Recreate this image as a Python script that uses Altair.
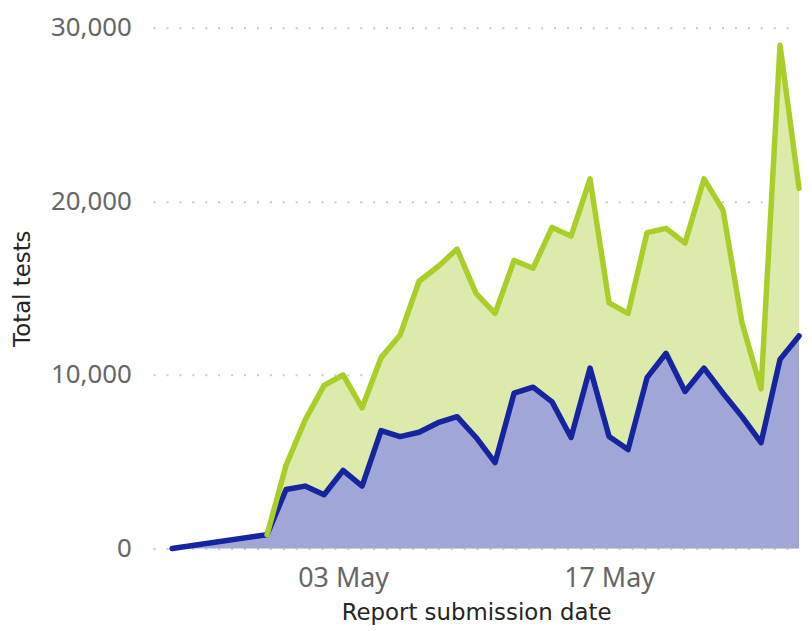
import altair as alt
import pandas as pd

dates = pd.date_range("2020-04-29", "2020-05-27", freq="D").strftime("%Y-%m-%d").tolist()

# Blue series (lower): includes starting point 24 Apr
blue_dates = ["2020-04-24"] + dates
blue_vals = [0, 800, 3400, 3600, 3100, 4500, 3600, 6800, 6450, 6700, 7250, 7600, 6400, 4950,
             8950, 9300, 8450, 6400, 10400, 6450, 5700, 9850, 11250, 9050, 10400, 8950,
             7600, 6100, 10900, 12250]

# Green series (upper / total)
green_dates = dates
green_vals = [800, 4800, 7400, 9400, 10000, 8100, 11000, 12300, 15400, 16250, 17250, 14700,
              13550, 16600, 16150, 18500, 18000, 21300, 14150, 13550, 18200, 18450, 17600,
              21300, 19500, 13000, 9200, 29000, 20750]

blue_df = pd.DataFrame({"date": blue_dates, "value": blue_vals})
green_df = pd.DataFrame({"date": green_dates, "value": green_vals})

GREEN_LINE = "#AACE28"
GREEN_FILL = "#DCEAAB"
BLUE_LINE = "#1525A0"
BLUE_FILL = "#A0A7D7"

x_enc = alt.X(
    "date:T",
    scale=alt.Scale(type="utc",
                    domain=[alt.DateTime(year=2020, month=4, date=23, utc=True),
                            alt.DateTime(year=2020, month=5, date=27, utc=True)]),
    axis=alt.Axis(
        title="Report submission date",
        values=[alt.DateTime(year=2020, month=5, date=3, utc=True),
                alt.DateTime(year=2020, month=5, date=17, utc=True)],
        labelExpr="utcFormat(datum.value, '%d %b')",
        grid=False, domain=False, ticks=False,
        labelFont="Noto Sans", labelFontSize=27, labelColor="#666666",
        labelPadding=17,
        titleFont="DejaVu Sans", titleFontSize=23, titleFontWeight="normal",
        titleColor="#252423", titlePadding=10,
    ),
)
y_enc = alt.Y(
    "value:Q",
    scale=alt.Scale(domain=[0, 30000], nice=False, zero=True),
    axis=alt.Axis(
        title="Total tests",
        values=[0, 10000, 20000, 30000],
        format=",d",
        grid=True, gridColor="#C8C8C8", gridDash=[2, 11], gridWidth=2,
        domain=False, ticks=False,
        labelFont="Noto Sans", labelFontSize=26, labelColor="#666666",
        labelPadding=22,
        titleFont="DejaVu Sans", titleFontSize=23, titleFontWeight="normal",
        titleColor="#252423", titlePadding=16,
    ),
)

green_area = alt.Chart(green_df).mark_area(color=GREEN_FILL, opacity=1).encode(x=x_enc, y=y_enc)
blue_area = alt.Chart(blue_df).mark_area(color=BLUE_FILL, opacity=1).encode(x=x_enc, y=y_enc)
blue_line = alt.Chart(blue_df).mark_line(color=BLUE_LINE, strokeWidth=5.5, strokeJoin="round",
                                         strokeCap="round").encode(x=x_enc, y=y_enc)
green_line = alt.Chart(green_df).mark_line(color=GREEN_LINE, strokeWidth=5.5, strokeJoin="round",
                                           strokeCap="round").encode(x=x_enc, y=y_enc)

chart = alt.layer(green_area, blue_area, blue_line, green_line).properties(
    width=650, height=524,
    autosize=alt.AutoSizeParams(type="none"),
    padding={"left": 146, "top": 18, "right": 5, "bottom": 80},
).configure_view(stroke=None)

chart.save("out.html", embed_options={"renderer": "svg", "actions": False})
